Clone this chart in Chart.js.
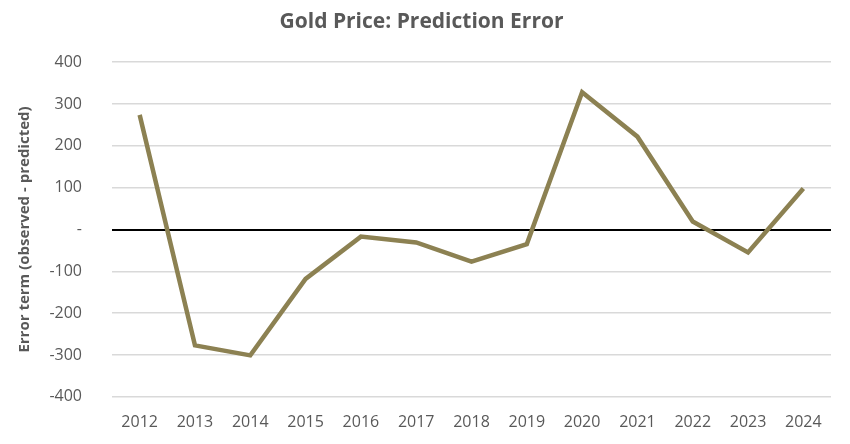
<!DOCTYPE html>
<html>
<head>
<meta charset="utf-8">
<script src="https://cdn.jsdelivr.net/npm/chart.js@4/dist/chart.umd.min.js"></script>
<style>
  html, body { margin: 0; padding: 0; background: #fff; }
  #wrap { width: 850px; height: 444px; position: relative; }
</style>
</head>
<body>
<div id="wrap"><canvas id="grafico"></canvas></div>
<script>
// data
const years = ['2012', '2013', '2014', '2015', '2016', '2017', '2018', '2019', '2020', '2021', '2022', '2023', '2024'];
const errorTerm = [274, -277, -301, -118, -17, -31, -77, -35, 328, 222, 19, -55, 98];
const yTicks = [-400, -300, -200, -100, 0, 100, 200, 300, 400];

const gris = '#595959';
const oliva = '#8c8152';

document.addEventListener("DOMContentLoaded", () => {
  const ctx = document.getElementById("grafico").getContext("2d");
  new Chart(ctx, {
    type: 'line',
    data: {
      labels: years,
      datasets: [{
        label: 'Error term',
        data: errorTerm,
        borderColor: oliva,
        borderWidth: 4.5,
        pointRadius: 0,
        tension: 0,
        fill: false
      }]
    },
    options: {
      responsive: true,
      maintainAspectRatio: false,
      animation: false,
      layout: { padding: { left: 12, right: 19, top: 4, bottom: 4 } },
      plugins: {
        legend: { display: false },
        tooltip: { enabled: false },
        title: {
          display: true,
          text: 'Gold Price: Prediction Error',
          color: gris,
          font: { family: 'Open Sans', size: 21, weight: 'bold' },
          padding: { top: 5, bottom: 28 }
        }
      },
      scales: {
        x: {
          offset: true,
          grid: { display: false },
          border: { display: false },
          ticks: {
            color: gris,
            font: { family: 'Open Sans', size: 16 },
            maxRotation: 0,
            padding: 8
          }
        },
        y: {
          min: -400,
          max: 400,
          afterBuildTicks: axis => { axis.ticks = yTicks.map(v => ({ value: v })); },
          afterFit: axis => { axis.width = 100; },
          grid: {
            color: c => c.tick && c.tick.value === 0 ? '#000000' : '#d9d9d9',
            lineWidth: c => c.tick && c.tick.value === 0 ? 2 : 1.5,
            drawTicks: false
          },
          border: { display: false },
          ticks: {
            color: gris,
            font: { family: 'Open Sans', size: 16 },
            padding: 30,
            callback: v => v === 0 ? '-' : v
          },
          title: {
            display: true,
            text: 'Error term (observed - predicted)',
            color: gris,
            font: { family: 'Open Sans', size: 15, weight: 'bold' },
            padding: { bottom: 0 }
          }
        }
      }
    }
  });
});
</script>
</body>
</html>
